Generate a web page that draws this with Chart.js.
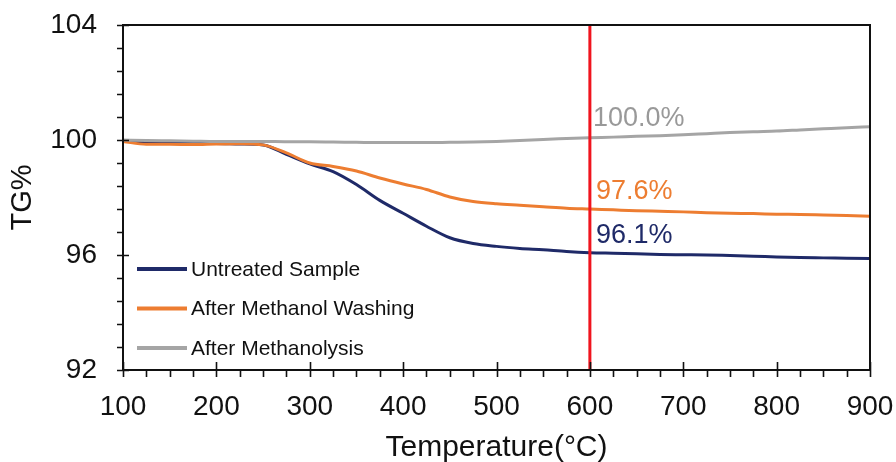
<!DOCTYPE html>
<html>
<head>
<meta charset="utf-8">
<script src="https://cdn.jsdelivr.net/npm/chart.js@4/dist/chart.umd.min.js"></script>
<style>
  html, body { margin: 0; padding: 0; background: #fff; }
  .wrap { width: 896px; height: 462px; }
</style>
</head>
<body>
<div class="wrap"><canvas id="tg"></canvas></div>
<script>
// temperature points (°C)
const temps = [100,125,150,175,200,225,250,275,300,325,350,375,400,425,450,475,500,
  525,550,575,600,625,650,675,700,725,750,775,800,825,850,875,900];

const untreated = [99.97,99.90,99.88,99.88,99.88,99.86,99.83,99.50,99.17,98.90,98.45,97.90,97.45,
  97.00,96.60,96.40,96.30,96.23,96.18,96.12,96.08,96.06,96.04,96.02,96.01,96.00,95.98,95.96,
  95.93,95.91,95.90,95.89,95.88];

const methWash = [99.95,99.85,99.85,99.84,99.86,99.87,99.83,99.55,99.20,99.08,98.92,98.68,98.47,
  98.28,98.02,97.86,97.78,97.73,97.68,97.63,97.60,97.57,97.54,97.52,97.50,97.47,97.45,97.44,
  97.42,97.41,97.39,97.37,97.35];

const methanolysis = [100.00,99.98,99.97,99.96,99.95,99.95,99.95,99.94,99.94,99.93,99.92,99.91,99.91,
  99.91,99.92,99.93,99.95,99.98,100.02,100.05,100.08,100.10,100.13,100.15,100.18,100.22,100.26,
  100.29,100.31,100.35,100.39,100.43,100.46];

const seriesNames = ["Untreated Sample", "After Methanol Washing", "After Methanolysis"];
const seriesColors = ["#1f2a68", "#ed7d31", "#a5a5a5"];

const markerTemp = 600;
const markerRange = [92, 104];
const endLabels = ["96.1%", "97.6%", "100.0%"];

const xTicks = { min: 100, max: 900, major: 100, minor: 25 };
const yTicks = { min: 92, max: 104, major: 4, minor: 0.8 };

const FONT = "'Liberation Sans', Arial, sans-serif";

function pts(vals) { return temps.map((t, i) => ({ x: t, y: vals[i] })); }

// frame, tick marks, labels at 600 °C and the legend
const decor = {
  id: "decor",
  afterDatasetsDraw(chart) {
    const ctx = chart.ctx, a = chart.chartArea;
    const xs = chart.scales.x, ys = chart.scales.y;
    ctx.save();
    ctx.strokeStyle = "#111";
    ctx.lineWidth = 2;
    ctx.strokeRect(a.left, a.top, a.right - a.left, a.bottom - a.top);

    ctx.lineWidth = 1.6;
    ctx.beginPath();
    for (let v = yTicks.min; v <= yTicks.max + 1e-6; v += yTicks.minor) {
      const y = Math.round(ys.getPixelForValue(v)) + 0.5;
      ctx.moveTo(a.left - 6, y); ctx.lineTo(a.left, y);
    }
    for (let v = yTicks.min; v <= yTicks.max; v += yTicks.major) {
      const y = Math.round(ys.getPixelForValue(v)) + 0.5;
      ctx.moveTo(a.left - 6, y); ctx.lineTo(a.left + 6, y);
    }
    for (let v = xTicks.min; v <= xTicks.max; v += xTicks.minor) {
      const x = Math.round(xs.getPixelForValue(v)) + 0.5;
      const major = (v - xTicks.min) % xTicks.major === 0;
      ctx.moveTo(x, a.bottom + 7); ctx.lineTo(x, major ? a.bottom - 8 : a.bottom);
    }
    ctx.stroke();

    // value labels at the marker line
    const lx = xs.getPixelForValue(markerTemp) + 6;
    const at600 = [untreated, methWash, methanolysis].map(s => s[temps.indexOf(markerTemp)]);
    ctx.font = "27px " + FONT;
    ctx.textAlign = "left";
    ctx.textBaseline = "middle";
    endLabels.forEach((txt, i) => {
      ctx.fillStyle = i === 2 ? "#999" : seriesColors[i];
      const off = i === 2 ? 19 : 17;
      ctx.fillText(txt, lx + (i === 2 ? -3 : 0), ys.getPixelForValue(at600[i]) - off);
    });

    // legend inside the plot, lower left
    ctx.font = "21px " + FONT;
    ctx.lineWidth = 4;
    const ly0 = 269, step = 39.5;
    seriesNames.forEach((name, i) => {
      const y = ly0 + i * step;
      ctx.strokeStyle = seriesColors[i];
      ctx.beginPath(); ctx.moveTo(137, y); ctx.lineTo(187, y); ctx.stroke();
      ctx.fillStyle = "#111";
      ctx.fillText(name, 191, y + 1);
    });
    ctx.restore();
  }
};

new Chart(document.getElementById("tg"), {
  type: "line",
  data: {
    datasets: [
      { label: "marker", data: markerRange.map(v => ({ x: markerTemp, y: v })),
        borderColor: "#f0141e", borderWidth: 3, order: 0 },
      { label: seriesNames[2], data: pts(methanolysis), borderColor: seriesColors[2], borderWidth: 3, order: 1 },
      { label: seriesNames[1], data: pts(methWash), borderColor: seriesColors[1], borderWidth: 3, order: 2 },
      { label: seriesNames[0], data: pts(untreated), borderColor: seriesColors[0], borderWidth: 3, order: 3 }
    ]
  },
  options: {
    responsive: true,
    maintainAspectRatio: false,
    animation: false,
    elements: { point: { radius: 0 }, line: { tension: 0.3, cubicInterpolationMode: "monotone" } },
    layout: { padding: { top: 25, right: 26, left: 0, bottom: 0 } },
    plugins: { legend: { display: false }, tooltip: { enabled: false } },
    scales: {
      x: {
        type: "linear", min: xTicks.min, max: xTicks.max,
        grid: { display: false, drawTicks: false },
        border: { display: false },
        ticks: { stepSize: xTicks.major, color: "#111", padding: 20, font: { family: FONT, size: 28 } },
        title: { display: true, text: "Temperature(°C)", color: "#111", padding: { top: 0, bottom: -4 },
                 font: { family: FONT, size: 30 } },
        afterFit(s) { s.height = 92; s.paddingLeft = 0; s.paddingRight = 0; }
      },
      y: {
        min: yTicks.min, max: yTicks.max,
        grid: { display: false, drawTicks: false },
        border: { display: false },
        ticks: { stepSize: yTicks.major, color: "#111", padding: 26, font: { family: FONT, size: 28 } },
        title: { display: true, text: "TG%", color: "#111", padding: { top: 6, bottom: 0 },
                 font: { family: FONT, size: 29 } },
        afterFit(s) { s.width = 123; s.paddingTop = 0; s.paddingBottom = 0; }
      }
    }
  },
  plugins: [decor]
});
</script>
</body>
</html>
